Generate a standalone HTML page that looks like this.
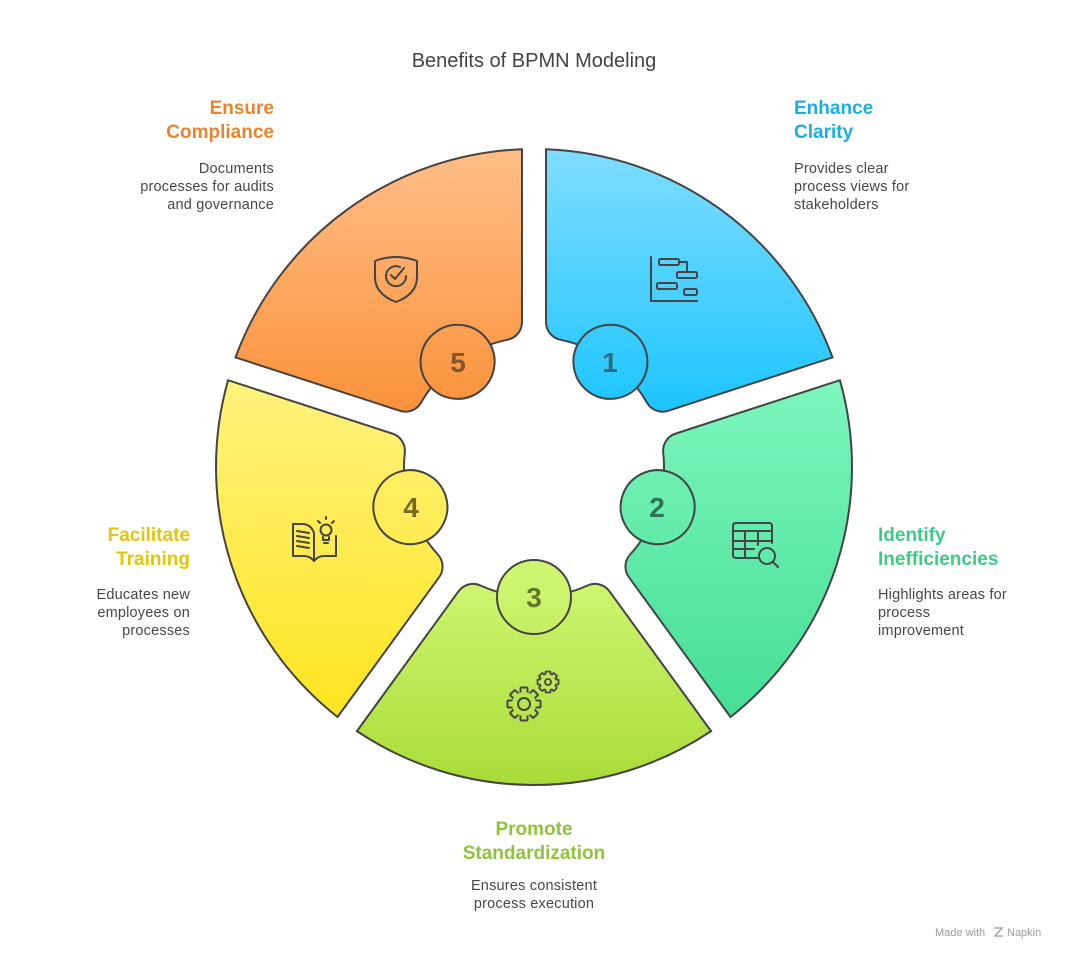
<!DOCTYPE html>
<html>
<head>
<meta charset="utf-8">
<style>
  html,body{margin:0;padding:0;background:#fff;}
  svg{display:block;}
  .h{font-family:"Liberation Sans",Arial,sans-serif;font-weight:bold;font-size:19px;}
  .b{font-family:"Liberation Sans",Arial,sans-serif;font-size:14.5px;fill:#474747;letter-spacing:0.2px;}
  .n{font-family:"Liberation Sans",Arial,sans-serif;font-weight:bold;font-size:28px;text-anchor:middle;}
  .ic{fill:none;stroke:#454545;stroke-width:2;stroke-linecap:round;stroke-linejoin:round;}
</style>
</head>
<body>
<svg width="1068" height="960" viewBox="0 0 1068 960" xmlns="http://www.w3.org/2000/svg">
  <defs>
    <linearGradient id="g1" gradientUnits="userSpaceOnUse" x1="0" y1="149" x2="0" y2="412" gradientTransform="rotate(144) translate(-534 -467)">
      <stop offset="0" stop-color="#80DDFF"/><stop offset="1" stop-color="#1BC5FF"/>
    </linearGradient>
    <linearGradient id="g2" gradientUnits="userSpaceOnUse" x1="0" y1="380" x2="0" y2="718" gradientTransform="rotate(72) translate(-534 -467)">
      <stop offset="0" stop-color="#7DF6BD"/><stop offset="1" stop-color="#45DE96"/>
    </linearGradient>
    <linearGradient id="g3" gradientUnits="userSpaceOnUse" x1="0" y1="583" x2="0" y2="785" gradientTransform="translate(-534 -467)">
      <stop offset="0" stop-color="#CEF570"/><stop offset="1" stop-color="#A9DC38"/>
    </linearGradient>
    <linearGradient id="g3s" gradientUnits="userSpaceOnUse" x1="0" y1="583" x2="0" y2="785">
      <stop offset="0" stop-color="#CEF570"/><stop offset="1" stop-color="#A9DC38"/>
    </linearGradient>
    <linearGradient id="g4" gradientUnits="userSpaceOnUse" x1="0" y1="380" x2="0" y2="718" gradientTransform="rotate(-72) translate(-534 -467)">
      <stop offset="0" stop-color="#FFF27E"/><stop offset="1" stop-color="#FFE51F"/>
    </linearGradient>
    <linearGradient id="g5" gradientUnits="userSpaceOnUse" x1="0" y1="149" x2="0" y2="412" gradientTransform="rotate(-144) translate(-534 -467)">
      <stop offset="0" stop-color="#FFBE88"/><stop offset="1" stop-color="#FA923A"/>
    </linearGradient>
    <path id="seg" d="M 177.07 264.13 A 318 318 0 0 1 -177.07 264.13 L -75.48 124.30 A 18 18 0 0 1 -53.51 118.48 A 130 130 0 0 0 53.51 118.48 A 18 18 0 0 1 75.48 124.30 Z"/>
  </defs>

  <!-- Title -->
  <text x="534" y="67" text-anchor="middle" font-family="Liberation Sans, Arial, sans-serif" font-size="20" fill="#444">Benefits of BPMN Modeling</text>

  <!-- Segments -->
  <g transform="translate(534 467) rotate(-144)">
    <use href="#seg" fill="url(#g1)" stroke="#444" stroke-width="2"/>
    <circle cx="0" cy="130" r="37" fill="url(#g1)" stroke="#444" stroke-width="2"/>
  </g>
  <g transform="translate(534 467) rotate(-72)">
    <use href="#seg" fill="url(#g2)" stroke="#444" stroke-width="2"/>
    <circle cx="0" cy="130" r="37" fill="url(#g2)" stroke="#444" stroke-width="2"/>
  </g>
  <g transform="translate(534 467)">
    <use href="#seg" fill="url(#g3)" stroke="#444" stroke-width="2"/>
    <circle cx="0" cy="130" r="37" fill="url(#g3)" stroke="#444" stroke-width="2"/>
  </g>
  <g transform="translate(534 467) rotate(72)">
    <use href="#seg" fill="url(#g4)" stroke="#444" stroke-width="2"/>
    <circle cx="0" cy="130" r="37" fill="url(#g4)" stroke="#444" stroke-width="2"/>
  </g>
  <g transform="translate(534 467) rotate(144)">
    <use href="#seg" fill="url(#g5)" stroke="#444" stroke-width="2"/>
    <circle cx="0" cy="130" r="37" fill="url(#g5)" stroke="#444" stroke-width="2"/>
  </g>

  <!-- Numbers -->
  <text class="n" x="610" y="372" fill="#2E6C82">1</text>
  <text class="n" x="657" y="517" fill="#2F7152">2</text>
  <text class="n" x="534" y="607" fill="#5E7A2C">3</text>
  <text class="n" x="411" y="517" fill="#746A25">4</text>
  <text class="n" x="458" y="372" fill="#82562E">5</text>

  <!-- Icon 1: gantt -->
  <g class="ic">
    <path d="M651 257 V301 H697"/>
    <rect x="659" y="259" width="20" height="6" rx="1.5"/>
    <rect x="677" y="272" width="20" height="6" rx="1.5"/>
    <rect x="657" y="283" width="20" height="6" rx="1.5"/>
    <rect x="684" y="289" width="13" height="6" rx="1.5"/>
    <path d="M679 262 H687 V272"/>
  </g>

  <!-- Icon 2: table search -->
  <g class="ic">
    <path d="M758 558 H736 Q733 558 733 555 V526 Q733 523 736 523 H769 Q772 523 772 526 V543"/>
    <path d="M733 531 H772"/>
    <path d="M733 541 H772"/>
    <path d="M733 549 H754"/>
    <path d="M745 531 V558"/>
    <path d="M758 531 V545"/>
    <circle cx="767" cy="556" r="8"/>
    <path d="M773 562 L778 567"/>
  </g>

  <!-- Icon 3: gears -->
  <g>
    <g transform="translate(524 704)" fill="url(#g3s)" stroke="#454545" stroke-width="2" stroke-linejoin="round">
      <g fill="#B8E64E">
        <rect x="-3.5" y="-16.5" width="7" height="7" rx="1"/>
        <rect x="-3.5" y="-16.5" width="7" height="7" rx="1" transform="rotate(45)"/>
        <rect x="-3.5" y="-16.5" width="7" height="7" rx="1" transform="rotate(90)"/>
        <rect x="-3.5" y="-16.5" width="7" height="7" rx="1" transform="rotate(135)"/>
        <rect x="-3.5" y="-16.5" width="7" height="7" rx="1" transform="rotate(180)"/>
        <rect x="-3.5" y="-16.5" width="7" height="7" rx="1" transform="rotate(225)"/>
        <rect x="-3.5" y="-16.5" width="7" height="7" rx="1" transform="rotate(270)"/>
        <rect x="-3.5" y="-16.5" width="7" height="7" rx="1" transform="rotate(315)"/>
      </g>
      <circle r="12" fill="#B8E64E" stroke="none"/>
      <circle r="6" fill="none"/>
    </g>
    <path d="M512 704 A12 12 0 0 1 536 704 A12 12 0 0 1 512 704" fill="none" stroke="none"/>
    <g transform="translate(548 682)" stroke="#454545" stroke-width="1.8" stroke-linejoin="round">
      <g fill="#BCE955">
        <rect x="-2.5" y="-10.5" width="5" height="5" rx="0.8"/>
        <rect x="-2.5" y="-10.5" width="5" height="5" rx="0.8" transform="rotate(45)"/>
        <rect x="-2.5" y="-10.5" width="5" height="5" rx="0.8" transform="rotate(90)"/>
        <rect x="-2.5" y="-10.5" width="5" height="5" rx="0.8" transform="rotate(135)"/>
        <rect x="-2.5" y="-10.5" width="5" height="5" rx="0.8" transform="rotate(180)"/>
        <rect x="-2.5" y="-10.5" width="5" height="5" rx="0.8" transform="rotate(225)"/>
        <rect x="-2.5" y="-10.5" width="5" height="5" rx="0.8" transform="rotate(270)"/>
        <rect x="-2.5" y="-10.5" width="5" height="5" rx="0.8" transform="rotate(315)"/>
      </g>
      <circle r="7.5" fill="#BCE955" stroke="none"/>
      <circle r="3" fill="none"/>
    </g>
  </g>

  <!-- Icon 4: book + bulb -->
  <g class="ic">
    <path d="M314 533 Q311 524 302 524 H293 V556 H304 Q310 556 314 561"/>
    <path d="M314 533 V561"/>
    <path d="M314 561 Q318 556 324 556 H336 V536"/>
    <path d="M297 531 L309 533"/>
    <path d="M297 536 L309 538"/>
    <path d="M297 541 L309 543"/>
    <path d="M297 546 L309 548"/>
    <circle cx="326" cy="530" r="5.5"/>
    <path d="M323 537 V540 H329 V537"/>
    <path d="M324 543 H328"/>
    <path d="M318 521 L320 523"/>
    <path d="M326 517 V519"/>
    <path d="M334 521 L332 523"/>
  </g>

  <!-- Icon 5: shield check -->
  <g class="ic">
    <path d="M375 261 Q396 253 417 261 V277 Q417 294 396 302 Q375 294 375 277 Z"/>
    <path d="M400 267 A10 10 0 1 0 406 276"/>
    <path d="M391 275 L395 279 L404 268"/>
  </g>

  <!-- Texts: Ensure Compliance -->
  <text class="h" x="274" y="114" text-anchor="end" fill="#E8842F">Ensure</text>
  <text class="h" x="274" y="138" text-anchor="end" fill="#E8842F">Compliance</text>
  <text class="b" x="274" y="173" text-anchor="end">Documents</text>
  <text class="b" x="274" y="191" text-anchor="end">processes for audits</text>
  <text class="b" x="274" y="209" text-anchor="end">and governance</text>

  <!-- Enhance Clarity -->
  <text class="h" x="794" y="114" fill="#1EAEDE">Enhance</text>
  <text class="h" x="794" y="138" fill="#1EAEDE">Clarity</text>
  <text class="b" x="794" y="173">Provides clear</text>
  <text class="b" x="794" y="191">process views for</text>
  <text class="b" x="794" y="209">stakeholders</text>

  <!-- Identify Inefficiencies -->
  <text class="h" x="878" y="541" fill="#3DCB87">Identify</text>
  <text class="h" x="878" y="565" fill="#3DCB87">Inefficiencies</text>
  <text class="b" x="878" y="599">Highlights areas for</text>
  <text class="b" x="878" y="617">process</text>
  <text class="b" x="878" y="635">improvement</text>

  <!-- Facilitate Training -->
  <text class="h" x="190" y="541" text-anchor="end" fill="#E3C50F">Facilitate</text>
  <text class="h" x="190" y="565" text-anchor="end" fill="#E3C50F">Training</text>
  <text class="b" x="190" y="599" text-anchor="end">Educates new</text>
  <text class="b" x="190" y="617" text-anchor="end">employees on</text>
  <text class="b" x="190" y="635" text-anchor="end">processes</text>

  <!-- Promote Standardization -->
  <text class="h" x="534" y="835" text-anchor="middle" fill="#8DC43C">Promote</text>
  <text class="h" x="534" y="859" text-anchor="middle" fill="#8DC43C">Standardization</text>
  <text class="b" x="534" y="890" text-anchor="middle">Ensures consistent</text>
  <text class="b" x="534" y="908" text-anchor="middle">process execution</text>

  <!-- Footer -->
  <text x="935" y="936" font-family="Liberation Sans, Arial, sans-serif" font-size="11" fill="#9a9a9a">Made with</text>
  <path d="M994 928 L1002 928 L995 936 L1003 936" fill="none" stroke="#9a9a9a" stroke-width="1.3"/>
  <text x="1007" y="936" font-family="Liberation Sans, Arial, sans-serif" font-size="11" fill="#9a9a9a">Napkin</text>
</svg>
</body>
</html>
